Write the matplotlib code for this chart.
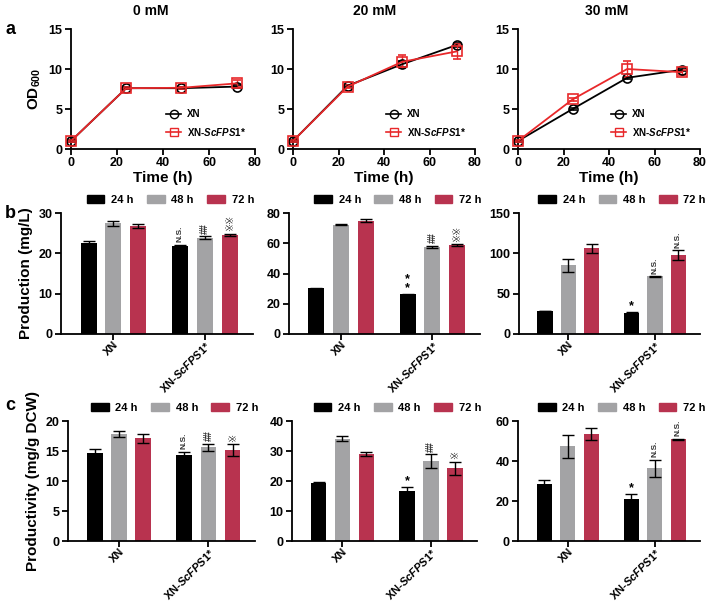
import matplotlib
matplotlib.use("Agg")
import matplotlib.pyplot as plt
import numpy as np
from matplotlib.lines import Line2D
from matplotlib.patches import Patch

plt.rcParams['font.family'] = ['Liberation Sans', 'DejaVu Sans']
plt.rcParams['font.weight'] = 'bold'
plt.rcParams['mathtext.fontset'] = 'custom'
plt.rcParams['mathtext.rm'] = 'Liberation Sans:bold'
plt.rcParams['mathtext.it'] = 'Liberation Sans:bold:italic'
plt.rcParams['mathtext.bf'] = 'Liberation Sans:bold'

# ---------------- data ----------------
conditions = ["0 mM", "20 mM", "30 mM"]
time_h = [0, 24, 48, 72]
od_xn = [[1.0, 7.6, 7.6, 7.8], [1.0, 7.9, 10.6, 13.0], [1.0, 5.0, 8.9, 9.9]]
od_xn_err = [[0.1, 0.15, 0.15, 0.2], [0.1, 0.15, 0.4, 0.3], [0.1, 0.15, 0.15, 0.2]]
od_fps = [[1.0, 7.6, 7.65, 8.2], [1.0, 7.8, 10.9, 12.2], [1.0, 6.2, 10.0, 9.6]]
od_fps_err = [[0.1, 0.15, 0.15, 0.4], [0.1, 0.15, 0.8, 0.9], [0.1, 0.15, 1.0, 0.3]]

strains = ["XN", "XN-$\\it{ScFPS1}$*"]
time_labels = ["24 h", "48 h", "72 h"]

# production [condition][strain][time]
prod = [[[22.6, 27.4, 26.8], [21.9, 23.9, 24.6]],
        [[30.2, 72.3, 75.0], [26.2, 57.5, 58.8]],
        [[28.5, 85.0, 106.0], [26.0, 71.5, 98.0]]]
prod_err = [[[0.5, 0.7, 0.4], [0.2, 0.3, 0.3]],
            [[0.3, 0.3, 1.0], [0.4, 0.8, 0.5]],
            [[0.5, 8.0, 5.0], [1.5, 0.5, 6.0]]]
prod_sig = [["N.S.", "##", "※※"], ["**", "##", "※※"], ["*", "N.S.", "N.S."]]

# productivity
prodv = [[[14.7, 17.9, 17.1], [14.4, 15.6, 15.1]],
         [[19.2, 34.1, 28.9], [16.8, 26.6, 24.3]],
         [[28.6, 47.4, 53.6], [20.9, 36.4, 50.8]]]
prodv_err = [[[0.7, 0.5, 0.7], [0.5, 0.6, 1.0]],
             [[0.5, 0.9, 0.7], [1.2, 2.3, 2.2]],
             [[2.0, 5.7, 3.0], [2.5, 4.2, 0.4]]]
prodv_sig = [["N.S.", "##", "※"], ["*", "##", "※"], ["*", "N.S.", "N.S."]]

ylims_b = [30, 80, 150]
yticks_b = [[0, 10, 20, 30], [0, 20, 40, 60, 80], [0, 50, 100, 150]]
ylims_c = [20, 40, 60]
yticks_c = [[0, 5, 10, 15, 20], [0, 10, 20, 30, 40], [0, 20, 40, 60]]

bar_colors = ["#000000", "#a3a3a5", "#b8334f"]
RED = "#e8282a"

W, H = 708, 605
fig = plt.figure(figsize=(W / 100, H / 100), dpi=100)


def add_ax(x0, x1, y0, y1):
    return fig.add_axes([x0 / W, 1 - y1 / H, (x1 - x0) / W, (y1 - y0) / H])


def style(ax):
    for s in ["top", "right"]:
        ax.spines[s].set_visible(False)
    for s in ["left", "bottom"]:
        ax.spines[s].set_linewidth(1.3)
    ax.tick_params(width=1.3, length=4, labelsize=9, pad=2)
    for lab in ax.get_xticklabels() + ax.get_yticklabels():
        lab.set_fontweight('bold')


# ---------------- row a ----------------
a_pos = [(71, 255), (293, 475), (518, 700)]
title_x = [151, 375, 607]
for i in range(3):
    ax = add_ax(a_pos[i][0], a_pos[i][1], 29, 149)
    ax.errorbar(time_h, od_xn[i], yerr=od_xn_err[i], color='black', marker='o',
                mfc='none', mec='black', ms=6.5, mew=1.2, lw=1.3, capsize=3,
                elinewidth=1, clip_on=False, zorder=3)
    ax.errorbar(time_h, od_fps[i], yerr=od_fps_err[i], color=RED, marker='s',
                mfc='none', mec=RED, ms=6.5, mew=1.2, lw=1.3, capsize=3,
                elinewidth=1, clip_on=False, zorder=3)
    ax.set_xlim(0, 80)
    ax.set_ylim(0, 15)
    ax.set_xticks([0, 20, 40, 60, 80])
    ax.set_yticks([0, 5, 10, 15])
    ax.set_xlabel("Time (h)", fontsize=11, fontweight='bold', labelpad=1)
    if i == 0:
        ax.set_ylabel("OD$_{600}$", fontsize=11, fontweight='bold', labelpad=4)
    style(ax)
    handles = [Line2D([], [], color='black', marker='o', mfc='none', ms=6, lw=1.2),
               Line2D([], [], color=RED, marker='s', mfc='none', ms=6, lw=1.2)]
    leg = ax.legend(handles, strains, loc='lower right', bbox_to_anchor=(1.0, 0.02),
                    frameon=False, fontsize=7, handlelength=1.6, labelspacing=0.7,
                    handletextpad=0.6)
    for t in leg.get_texts():
        t.set_fontweight('bold')
    fig.text(title_x[i] / W, 1 - 11 / H, conditions[i], fontsize=10,
             fontweight='bold', ha='center', va='center')


# ---------------- bar rows ----------------
def bar_panel(ax, vals, errs, sigs, ylim, yticks, ylabel=None):
    offs = [-0.27, 0.0, 0.27]
    width = 0.175
    centers = np.arange(len(strains))
    for t in range(3):
        xs = centers + offs[t]
        v = [vals[s][t] for s in range(2)]
        e = [errs[s][t] for s in range(2)]
        ax.bar(xs, v, width=width, color=bar_colors[t], label=time_labels[t], zorder=2)
        ax.errorbar(xs, v, yerr=e, fmt='none', ecolor='black', elinewidth=1,
                    capsize=4, capthick=1, zorder=3)
        # significance on second strain
        top = vals[1][t] + errs[1][t]
        s = sigs[t]
        if s in ("*", "**"):
            ax.text(xs[1], top + ylim * 0.0, "\n".join(s), ha='center', va='bottom',
                    fontsize=9, fontweight='bold', linespacing=0.6)
        else:
            fs = 6 if s == "N.S." else 7
            ax.text(xs[1], top + ylim * 0.02, s, ha='center', va='bottom',
                    rotation=90, fontsize=fs, color='#333333',
                    family=['DejaVu Sans'] if '※' in s else None,
                    fontweight='normal' if '※' in s else 'bold')
    ax.set_xlim(-0.57, 1.52)
    ax.set_ylim(0, ylim)
    ax.set_yticks(yticks)
    ax.set_xticks(centers)
    ax.set_xticklabels(strains, rotation=45, ha='right', rotation_mode='anchor',
                       fontsize=8, fontweight='bold')
    if ylabel:
        ax.set_ylabel(ylabel, fontsize=11, fontweight='bold', labelpad=4)
    style(ax)
    ax.tick_params(axis='x', labelsize=8, pad=0)
    handles = [Patch(color=c) for c in bar_colors]
    leg = ax.legend(handles, time_labels, loc='lower center', bbox_to_anchor=(0.57, 1.03),
                    ncol=3, frameon=False, fontsize=8, handlelength=1.6,
                    handleheight=0.8, columnspacing=1.2, handletextpad=0.6,
                    borderaxespad=0)
    for t in leg.get_texts():
        t.set_fontweight('bold')


b_pos = [(61, 253), (289, 480), (519, 700)]
for i in range(3):
    ax = add_ax(b_pos[i][0], b_pos[i][1], 213, 334)
    bar_panel(ax, prod[i], prod_err[i], prod_sig[i], ylims_b[i], yticks_b[i],
              "Production (mg/L)" if i == 0 else None)

c_pos = [(68, 255), (292, 477), (518, 700)]
for i in range(3):
    ax = add_ax(c_pos[i][0], c_pos[i][1], 421, 541)
    bar_panel(ax, prodv[i], prodv_err[i], prodv_sig[i], ylims_c[i], yticks_c[i],
              "Productivity (mg/g DCW)" if i == 0 else None)

# panel letters
for lab, y in [("a", 30), ("b", 213), ("c", 405)]:
    fig.text(5 / W, 1 - y / H, lab, fontsize=13, fontweight='bold', va='center')

fig.savefig("out.png", dpi=100)
